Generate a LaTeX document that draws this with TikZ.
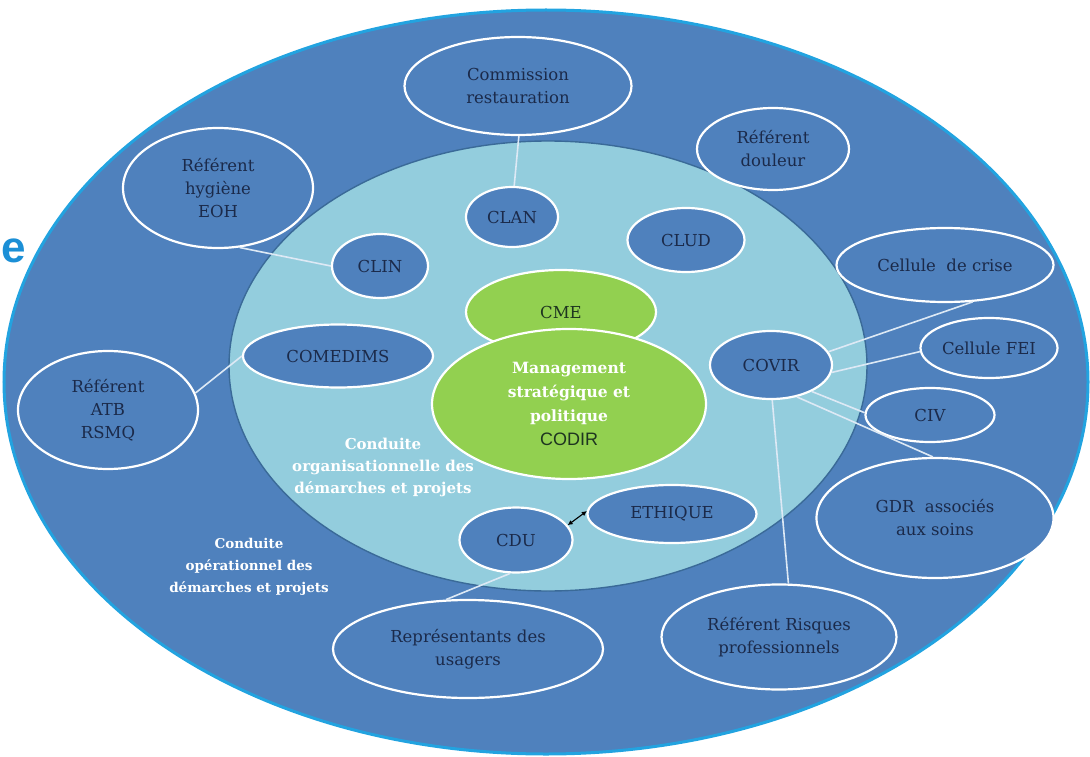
\documentclass[tikz,border=0pt]{standalone}
\usepackage{fontspec}
\setmainfont{DejaVu Serif}
\newfontfamily\sansf{Liberation Sans}
\usetikzlibrary{shapes.geometric,arrows.meta}
\definecolor{outerblue}{HTML}{4F81BD}
\definecolor{rimblue}{HTML}{22A3E0}
\definecolor{innerblue}{HTML}{93CDDD}
\definecolor{innerrim}{HTML}{3A6A98}
\definecolor{navy}{HTML}{1B2A4A}
\definecolor{leaf}{HTML}{92D050}
\definecolor{darkleaf}{HTML}{1E3520}
\definecolor{linec}{HTML}{DDE9F5}
\definecolor{brightblue}{HTML}{1B8FD6}
\tikzset{
  bub/.style={ellipse, draw=white, line width=2.2pt, fill=outerblue, inner sep=0pt,
    text=navy, font=\fontsize{16.5}{23}\selectfont, align=center},
  greenbub/.style={bub, fill=leaf},
  conn/.style={draw=linec, line width=1.6pt},
  note/.style={text=white, align=center, font=\bfseries\fontsize{15}{22}\selectfont}
}
\begin{document}
\begin{tikzpicture}[x=1pt,y=-1pt]
\useasboundingbox (0,0) rectangle (1090,757);
% stray letter at the left edge
\node[anchor=base west, inner sep=0pt, text=brightblue, font=\sansf\bfseries\fontsize{44}{44}\selectfont] (stray) at (1,262) {e};
% backgrounds
\node[ellipse, fill=outerblue, draw=rimblue, line width=3pt, minimum width=1084pt, minimum height=744pt, inner sep=0pt] (outer) at (546,382) {};
\node[ellipse, fill=innerblue, draw=innerrim, line width=1.4pt, minimum width=638pt, minimum height=450pt, inner sep=0pt] (inner) at (548,366) {};
% nodes
\node[bub, minimum width=227pt, minimum height=98pt] (comm) at (518,86) {Commission\\restauration};
\node[bub, minimum width=92pt, minimum height=60pt] (clan) at (512,217) {CLAN};
\node[bub, minimum width=152pt, minimum height=82pt] (doul) at (773,149) {Référent\\douleur};
\node[bub, minimum width=117pt, minimum height=64pt] (clud) at (686,240) {CLUD};
\node[bub, minimum width=190pt, minimum height=120pt] (hyg) at (218,188) {Référent\\hygiène\\EOH};
\node[bub, minimum width=96pt, minimum height=64pt] (clin) at (380,266) {CLIN};
\node[bub, minimum width=217pt, minimum height=74pt] (crise) at (945,265) {Cellule\ \ de crise};
\node[bub, minimum width=137pt, minimum height=60pt] (fei) at (989,348) {Cellule FEI};
\node[bub, minimum width=129pt, minimum height=54pt] (civ) at (930,415) {CIV};
\node[bub, minimum width=122pt, minimum height=68pt] (covir) at (771,365) {COVIR};
\node[bub, minimum width=190pt, minimum height=63pt] (comed) at (338,356) {COMEDIMS};
\node[bub, minimum width=180pt, minimum height=118pt] (atb) at (108,410) {Référent\\ATB\\RSMQ};
\node[greenbub, minimum width=190pt, minimum height=84pt, text=darkleaf] (cme) at (561,312) {CME};
\node[greenbub, minimum width=274pt, minimum height=150pt, text=white, font=\bfseries\fontsize{15.5}{24}\selectfont] (codir) at (569,404)
  {Management\\stratégique et\\politique\\{\color{darkleaf}\mdseries\sansf\fontsize{18}{24}\selectfont CODIR}};
\node[bub, minimum width=169pt, minimum height=58pt] (ethique) at (672,514) {ETHIQUE};
\node[bub, minimum width=113pt, minimum height=65pt] (cdu) at (516,540) {CDU};
\node[bub, minimum width=237pt, minimum height=120pt] (gdr) at (935,518) {GDR\ \ associés\\aux soins};
\node[bub, minimum width=270pt, minimum height=98pt] (rep) at (468,649) {Représentants des\\usagers};
\node[bub, minimum width=235pt, minimum height=105pt] (risq) at (779,637) {Référent Risques\\professionnels};
% free texts
\node[note] (orgtext) at (383,467) {Conduite\\organisationnelle des\\démarches et projets};
\node[note, font=\bfseries\fontsize{13.5}{22}\selectfont] (optext) at (249,567) {Conduite\\opérationnel des\\démarches et projets};
% connectors
\draw[conn] (comm.-89) -- (clan.86);
\draw[conn] (hyg.-70) -- (clin.180);
\draw[conn] (comed.180) -- (atb.11);
\draw[conn] (covir.13.6) -- (crise.-53);
\draw[conn] (covir.-7) -- (fei.183);
\draw[conn] (covir.-33) -- (civ.178);
\draw[conn] (covir.-51) -- (gdr.92);
\draw[conn] (covir.-88) -- (risq.80);
\draw[conn] (cdu.-100) -- (rep.114);
\draw[{Latex[length=5pt,width=5pt]}-{Latex[length=5pt,width=5pt]}, line width=1.1pt, black] (cdu.16) -- (ethique.178);
\end{tikzpicture}
\end{document}
